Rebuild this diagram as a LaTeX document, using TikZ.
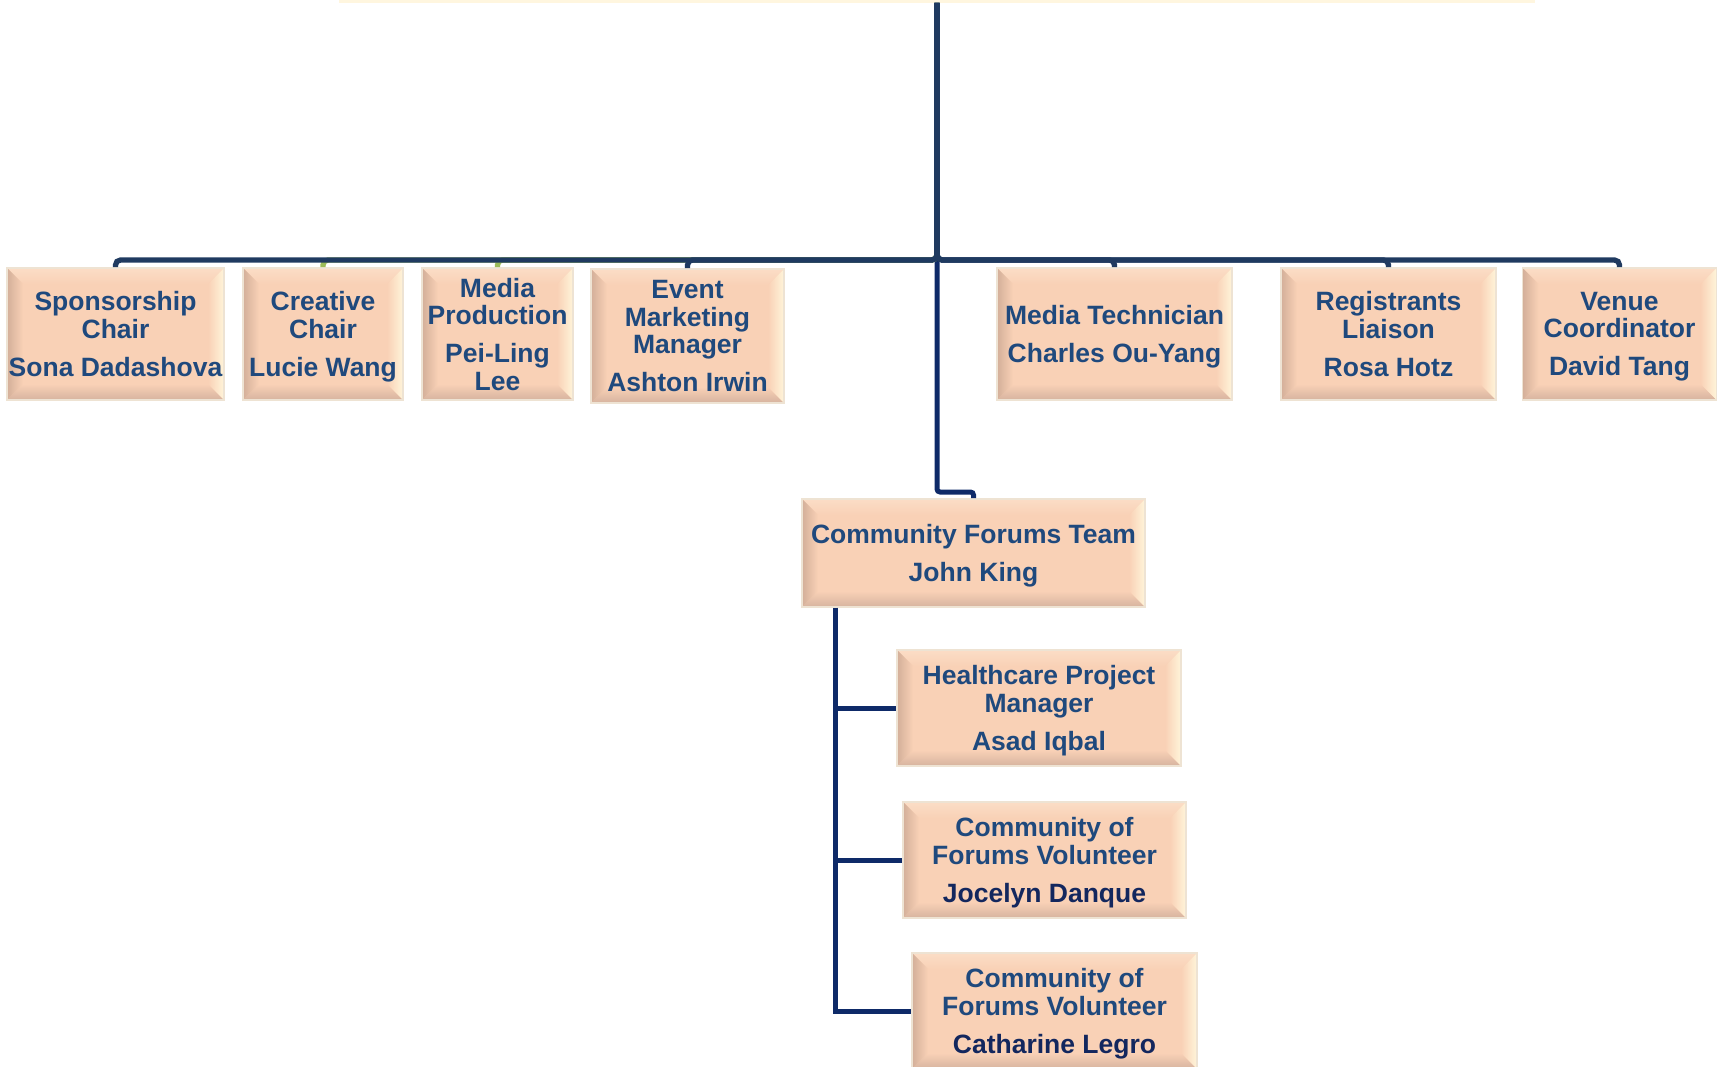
\documentclass[tikz,border=0pt]{standalone}
\usepackage{fontspec}
\setmainfont{Liberation Sans}
\usetikzlibrary{calc}
\definecolor{face}{HTML}{F9D1B6}
\definecolor{bevL}{HTML}{D3AF99}
\definecolor{bevB}{HTML}{D6B39F}
\definecolor{bevR}{HTML}{FFF5DA}
\definecolor{bevT}{HTML}{FBDDC6}
\definecolor{rim}{HTML}{EEE3D3}
\definecolor{txt}{HTML}{1F497D}
\definecolor{txtdark}{HTML}{13275E}
\definecolor{upcol}{HTML}{1F3A60}
\definecolor{lowcol}{HTML}{0E2A68}
\definecolor{greencol}{HTML}{9BBB59}
\definecolor{topfill}{HTML}{FFF6DF}
\def\bvw{16pt}
\newcommand\nodepth[1]{\raisebox{0pt}[\height][0pt]{#1}}
\begin{document}
\begin{tikzpicture}[x=1pt,y=-1pt,
  box/.style={rectangle, inner sep=0pt, fill=face, draw=rim, line width=1.6pt,
    align=center, text=txt, font=\bfseries\fontsize{26.5}{27.3}\selectfont,
    path picture={
      \coordinate (pa) at (path picture bounding box.north west);
      \coordinate (pb) at (path picture bounding box.north east);
      \coordinate (pc) at (path picture bounding box.south east);
      \coordinate (pd) at (path picture bounding box.south west);
      \shade[top color=bevT, bottom color=face] (pa) -- (pb) -- ($(pb)+(-\bvw,-\bvw)$) -- ($(pa)+(\bvw,-\bvw)$) -- cycle;
      \shade[top color=face, bottom color=bevB] (pd) -- (pc) -- ($(pc)+(-\bvw,\bvw)$) -- ($(pd)+(\bvw,\bvw)$) -- cycle;
      \shade[left color=bevL, right color=face] (pa) -- ($(pa)+(\bvw,-\bvw)$) -- ($(pd)+(\bvw,\bvw)$) -- (pd) -- cycle;
      \shade[left color=face, right color=bevR] (pb) -- ($(pb)+(-\bvw,-\bvw)$) -- ($(pc)+(-\bvw,\bvw)$) -- (pc) -- cycle;
    }},
  topbar/.style={rectangle, inner sep=0pt, fill=topfill, draw=none},
  upconn/.style={draw=upcol, line width=5.3pt, rounded corners=5pt},
  greenconn/.style={draw=greencol, line width=5.3pt, rounded corners=5pt},
  lowconn/.style={draw=lowcol, line width=5pt, rounded corners=3pt},
  branch/.style={draw=lowcol, line width=5pt}
]
\useasboundingbox (0,0) rectangle (1717,1067);

% top (cut-off) node
\node[topbar, minimum width=1196pt, minimum height=40pt, anchor=south] (topnode) at (937,3) {};

\coordinate (bus) at (0,260);
\coordinate (elbow) at (0,492);

% nodes
\node[box, minimum width=217pt, minimum height=132pt] (spons) at (115.5,334) {Sponsorship\\Chair\\[10.9pt]\nodepth{Sona Dadashova}};
\node[box, minimum width=160pt, minimum height=132pt] (creat) at (323,334) {Creative\\Chair\\[10.9pt]\nodepth{Lucie Wang}};
\node[box, minimum width=151pt, minimum height=132pt] (mprod) at (497.5,334) {Media\\Production\\[10.9pt]Pei-Ling\\\nodepth{Lee}};
\node[box, minimum width=193pt, minimum height=134pt] (event) at (687.5,336) {Event\\Marketing\\Manager\\[10.9pt]\nodepth{Ashton Irwin}};
\node[box, minimum width=235pt, minimum height=132pt] (mtech) at (1114.5,334) {Media Technician\\[10.9pt]\nodepth{Charles Ou-Yang}};
\node[box, minimum width=215pt, minimum height=132pt] (regis) at (1388.5,334) {Registrants\\Liaison\\[10.9pt]\nodepth{Rosa Hotz}};
\node[box, minimum width=194pt, minimum height=132pt] (venue) at (1619.5,334) {Venue\\Coordinator\\[10.9pt]\nodepth{David Tang}};
\node[box, minimum width=343pt, minimum height=108pt] (cft) at (973.5,553) {Community Forums Team\\[10.9pt]\nodepth{John King}};
\node[box, minimum width=284pt, minimum height=116pt] (hc) at (1039,708) {Healthcare Project\\Manager\\[10.9pt]\nodepth{Asad Iqbal}};
\node[box, minimum width=283pt, minimum height=116pt] (joc) at (1044.5,860) {Community of\\Forums Volunteer\\[10.9pt]\nodepth{\color{txtdark}Jocelyn Danque}};
\node[box, minimum width=285pt, minimum height=116pt] (cath) at (1054.5,1011) {Community of\\Forums Volunteer\\[10.9pt]\nodepth{\color{txtdark}Catharine Legro}};

% connectors
\draw[lowconn] (topnode.south) -- (topnode.south |- elbow) -| (cft.north);
\foreach \c in {creat,mprod}
  \draw[greenconn] (topnode.south) -- (topnode.south |- bus) -| (\c.north);
\foreach \c in {spons,event,mtech,regis,venue}
  \draw[upconn] (topnode.south) -- (topnode.south |- bus) -| (\c.north);
\foreach \c in {hc,joc,cath}
  \draw[branch] ([xshift=34pt]cft.south west) |- (\c.west);
\end{tikzpicture}
\end{document}
